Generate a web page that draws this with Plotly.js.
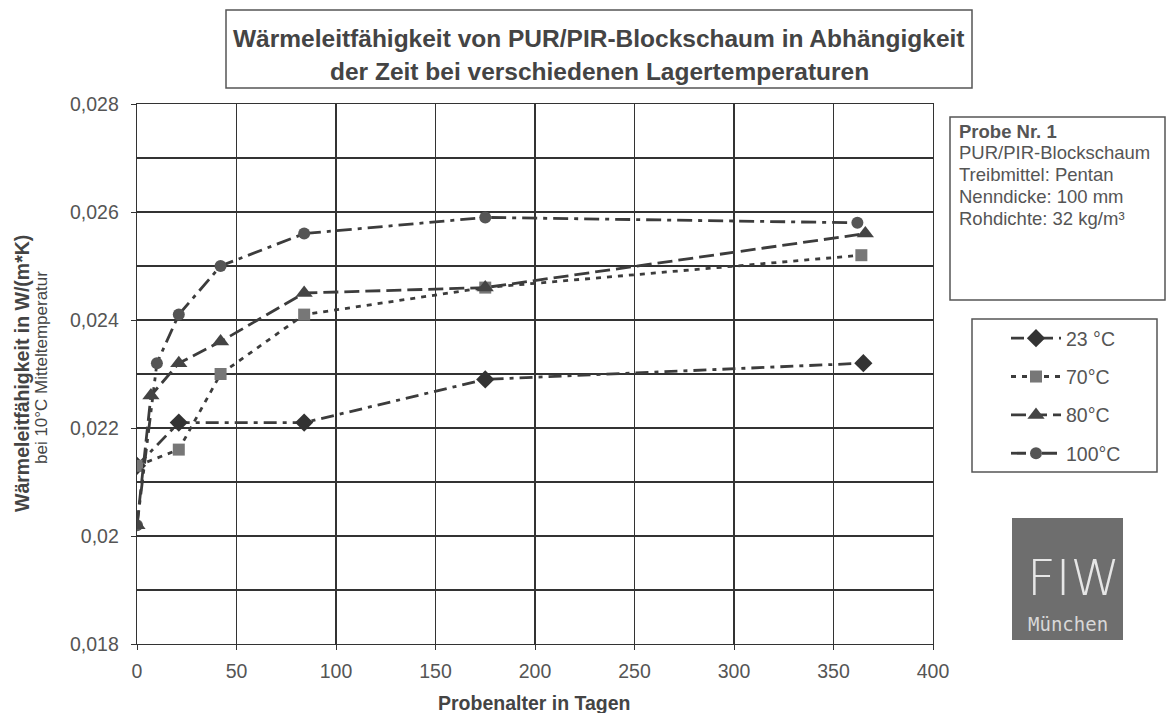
<!DOCTYPE html>
<html>
<head>
<meta charset="utf-8">
<script src="https://cdn.plot.ly/plotly-3.0.1.min.js"></script>
<style>html,body{margin:0;padding:0;background:#fff;}#chart{width:1176px;height:713px;}</style>
</head>
<body>
<div id="chart"></div>
<script>
// ---- data ----
var seriesNames = ["23 °C", "70°C", "80°C", "100°C"];
var x23 = [0, 21, 84, 175, 365];
var y23 = [0.0213, 0.0221, 0.0221, 0.0229, 0.0232];
var x70 = [0, 21, 42, 84, 175, 364];
var y70 = [0.0213, 0.0216, 0.0230, 0.0241, 0.0246, 0.0252];
var x80 = [0, 7, 21, 42, 84, 175, 366];
var y80 = [0.0202, 0.0226, 0.0232, 0.0236, 0.0245, 0.0246, 0.0256];
var x100 = [0, 10, 21, 42, 84, 175, 362];
var y100 = [0.0202, 0.0232, 0.0241, 0.0250, 0.0256, 0.0259, 0.0258];
var yTickVals = [0.018, 0.020, 0.022, 0.024, 0.026, 0.028];
var yTickText = ["0,018", "0,02", "0,022", "0,024", "0,026", "0,028"];
var xTickVals = [0, 50, 100, 150, 200, 250, 300, 350, 400];
var xTickText = ["0", "50", "100", "150", "200", "250", "300", "350", "400"];
var titleLine1 = "Wärmeleitfähigkeit von PUR/PIR-Blockschaum in Abhängigkeit";
var titleLine2 = "der Zeit bei verschiedenen Lagertemperaturen";
var yTitle1 = "Wärmeleitfähigkeit in W/(m*K)";
var yTitle2 = "bei 10°C Mitteltemperatur";
var xTitle = "Probenalter in Tagen";
var infoLines = ["<b>Probe Nr. 1</b>", "PUR/PIR-Blockschaum", "Treibmittel: Pentan", "Nenndicke: 100 mm", "Rohdichte: 32 kg/m³"];
var logoText = "FIW";
var logoSub = "München";

// ---- layout helpers (pixel -> paper) ----
var L = 137, R = 933, T = 104, B = 644, W = 1176, H = 713;
function px(x){ return (x - L) / (R - L); }
function py(y){ return (B - y) / (B - T); }

var FONT = "Liberation Sans, Arial, sans-serif";
var TXT = "#444";

function tr(x, y, name, dash, sym, size, col, rank){
  return {
    x: x, y: y, name: name, type: "scatter", mode: "lines+markers",
    line: {color: "#3c3c3c", width: 2.8, dash: dash},
    marker: {symbol: sym, size: size, color: col, line: {width: 0}},
    legendgroup: name, legendrank: rank
  };
}

var data = [
  tr(x23, y23, seriesNames[0], "13px,6px,4px,6px", "diamond", 14, "#333", 1),
  tr(x70, y70, seriesNames[1], "5px,6px", "square", 12, "#777", 2),
  tr(x100, y100, seriesNames[3], "15px,6px,4px,6px", "circle", 12, "#555", 4),
  tr(x80, y80, seriesNames[2], "15px,6px", "triangle-up", 15, "#444", 3)
];

function ann(x, y, text, size, opts){
  var a = {xref:"paper", yref:"paper", x: px(x), y: py(y), text: text, showarrow:false,
    font:{family:FONT, size:size, color:TXT}, xanchor:"center", yanchor:"middle"};
  for (var k in (opts||{})) a[k] = opts[k];
  return a;
}

var annotations = [
  ann(599, 39, "<b>"+titleLine1+"</b>", 24.5),
  ann(599, 71, "<b>"+titleLine2+"</b>", 24.5),
  ann(22, 374, "<b>"+yTitle1+"</b>", 19.5, {textangle:-90}),
  ann(41, 368, yTitle2, 17, {textangle:-90}),
  ann(534, 703, "<b>"+xTitle+"</b>", 19.5),
  ann(1073, 578, logoText, 50, {font:{family:"DejaVu Sans, sans-serif", size:50, color:"#e6e6e6", weight:300}}),
  ann(1068, 624, logoSub, 19, {font:{family:"DejaVu Sans Mono, monospace", size:19, color:"#d8d8d8"}})
];
for (var i = 0; i < infoLines.length; i++) {
  annotations.push(ann(957, 131 + i*21.8, infoLines[i], 18.5,
    {xanchor:"left", align:"left", font:{family:FONT, size:18.5, color:"#555"}}));
}

var shapes = [
  {type:"rect", xref:"paper", yref:"paper", x0:px(226), x1:px(972), y0:py(88), y1:py(10), line:{color:"#555", width:1.5}},
  {type:"rect", xref:"paper", yref:"paper", x0:px(950), x1:px(1165), y0:py(300), y1:py(117), line:{color:"#555", width:1.5}},
  {type:"rect", xref:"paper", yref:"paper", x0:px(972), x1:px(1157), y0:py(472), y1:py(319), line:{color:"#555", width:1.5}},
  {type:"rect", xref:"paper", yref:"paper", x0:px(1012), x1:px(1123), y0:py(640), y1:py(518), line:{width:0}, fillcolor:"#6e6e6e"}
];

var layout = {
  width: W, height: H,
  margin: {l: L, r: W - R, t: T, b: H - B, pad: 0},
  paper_bgcolor: "#fff", plot_bgcolor: "#fff",
  font: {family: FONT, color: TXT},
  showlegend: true,
  legend: {x: px(1006), y: py(319), xanchor:"left", yanchor:"top", bgcolor:"rgba(0,0,0,0)",
           font:{family:FONT, size:19.5, color:"#555"}, tracegroupgap: 10, itemwidth: 50, traceorder:"grouped"},
  xaxis: {range:[0,400], tickvals:xTickVals, ticktext:xTickText, showgrid:true, gridcolor:"#333", gridwidth:1.3,
          zeroline:false, showline:true, linecolor:"#333", linewidth:1.3, mirror:true, ticklabelstandoff:4,
          ticks:"outside", ticklen:5, tickcolor:"#333", tickfont:{family:FONT, size:19.5, color:"#555"}, fixedrange:true},
  yaxis: {range:[0.018,0.028], tickvals:yTickVals, ticktext:yTickText, showgrid:true, gridcolor:"#333", gridwidth:1.3,
          minor:{dtick:0.001, showgrid:true, gridcolor:"#333", gridwidth:1.3, ticks:""},
          zeroline:false, showline:true, linecolor:"#333", linewidth:1.3, mirror:true, ticklabelstandoff:8,
          ticks:"outside", ticklen:5, tickcolor:"#333", tickfont:{family:FONT, size:19.5, color:"#555"}, fixedrange:true},
  annotations: annotations,
  shapes: shapes
};

Plotly.newPlot("chart", data, layout, {displayModeBar:false, staticPlot:true});
</script>
</body>
</html>
